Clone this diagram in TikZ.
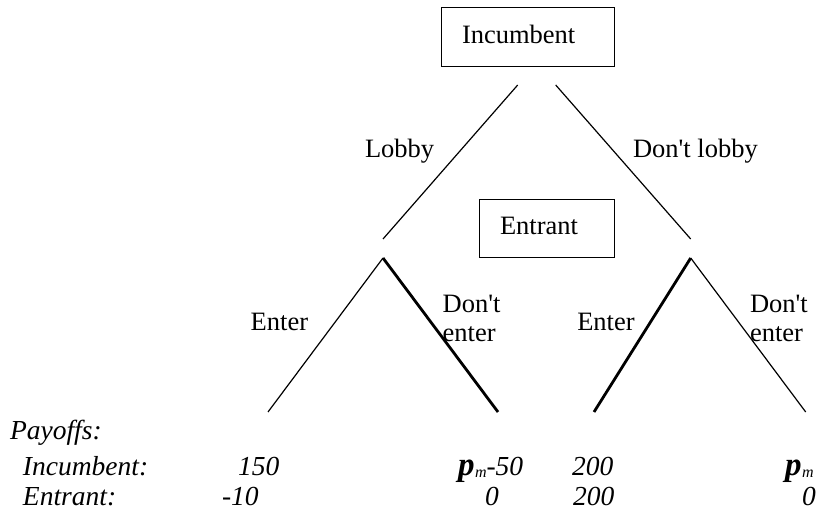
\documentclass[tikz,border=0pt]{standalone}
\usepackage{fontspec}
\setmainfont{Liberation Serif}
\newcommand{\pim}{{\fontsize{33}{33}\selectfont\bfseries\itshape p}\kern0.5pt\raisebox{-2pt}{\fontsize{16}{16}\selectfont\itshape m}}
\newcommand{\apos}{\textquotesingle}
\begin{document}
\begin{tikzpicture}[x=1pt,y=-1pt,
  every node/.style={inner sep=0pt, outer sep=0pt},
  lbl/.style={anchor=base west, font=\fontsize{26.5}{29}\selectfont},
  two/.style={anchor=north west, align=left, font=\fontsize{26.5}{29}\selectfont},
  pay/.style={anchor=base west, font=\fontsize{27.5}{30}\selectfont\itshape},
  boxnode/.style={draw, line width=1pt, anchor=north west, align=left,
    inner xsep=21pt, inner ysep=0pt, text depth=6pt,
    font=\fontsize{26.5}{29}\selectfont},
  branch/.style={line width=1.2pt},
  chosen/.style={line width=2.8pt}]
\useasboundingbox (0,0) rectangle (817,513);
% boxes
\node[boxnode, text width=131pt, minimum width=173pt, minimum height=59pt] (incbox) at (441,8) {Incumbent};
\node[boxnode, text width=93pt, minimum width=135pt, minimum height=58pt] (entbox) at (479,200) {Entrant};
% tree points
\coordinate (t1) at (517.7,85);
\coordinate (t1e) at (383,239);
\coordinate (t2) at (555.7,85);
\coordinate (t2e) at (690.7,239);
\coordinate (a1) at (383,258);
\coordinate (a1l) at (268,412);
\coordinate (a1r) at (498,412);
\coordinate (a2) at (690.7,258);
\coordinate (a2l) at (594,412);
\coordinate (a2r) at (805.7,412);
% branches
\draw[branch] (t1) -- (t1e);
\draw[branch] (t2) -- (t2e);
\draw[branch] (a1) -- (a1l);
\draw[chosen] (a1) -- (a1r);
\draw[chosen] (a2) -- (a2l);
\draw[branch] (a2) -- (a2r);
% branch labels
\node[lbl] (lobby) at (365,158) {Lobby};
\node[lbl] (dlobby) at (633,158) {Don\apos t lobby};
\node[lbl] (enter1) at (250.7,330.7) {Enter};
\node[lbl] (enter2) at (577.3,330.7) {Enter};
\node[two] (dent1) at (442.7,294.8) {Don\apos t\\enter};
\node[two] (dent2) at (750,294.8) {Don\apos t\\enter};
% payoffs
\node[pay] (payoffs) at (10,439) {Payoffs:};
\node[pay] (incl) at (23,475) {Incumbent:};
\node[pay] (entl) at (23,505) {Entrant:};
\node[pay] (i1) at (238,475) {150};
\node[pay] (e1) at (222,505) {-10};
\node[pay] (i2) at (458,475) {\pim-50};
\node[pay] (e2) at (485,505) {0};
\node[pay] (i3) at (572,475) {200};
\node[pay] (e3) at (573,505) {200};
\node[pay] (i4) at (785,475) {\pim};
\node[pay] (e4) at (802,505) {0};
\end{tikzpicture}
\end{document}
